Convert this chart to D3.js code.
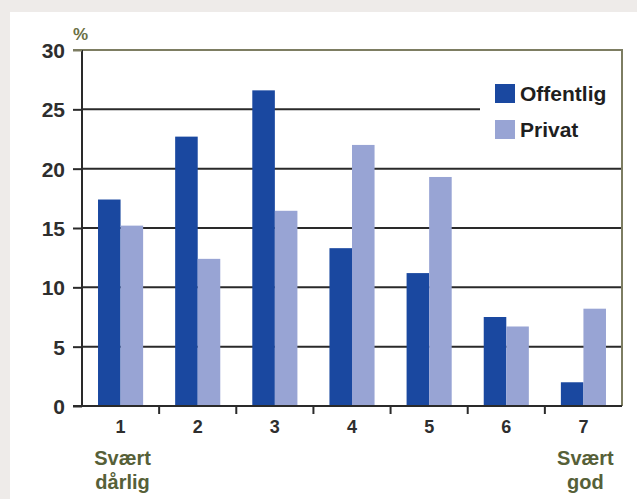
<!DOCTYPE html>
<html><head><meta charset="utf-8">
<script src="https://cdn.jsdelivr.net/npm/d3@7"></script>
<style>
html,body{margin:0;padding:0;background:#eeebe9;}
svg{display:block;}
text{font-family:"Liberation Sans",Arial,sans-serif;}
</style></head>
<body>
<script>
const categories = ["1","2","3","4","5","6","7"];
const offentlig = [17.4, 22.7, 26.6, 13.3, 11.2, 7.5, 2.0];
const privat    = [15.2, 12.4, 16.45, 22.0, 19.3, 6.7, 8.2];
const seriesNames = ["Offentlig","Privat"];
const seriesColors = ["#1a48a0","#98a4d4"];
const yTicks = [0,5,10,15,20,25,30];
const extraLabels = {"1":["Svært","dårlig"],"7":["Svært","god"]};

(function(){
const W = 637, H = 499;
const svg = d3.select("body").append("svg").attr("width", W).attr("height", H);
svg.append("rect").attr("x",10).attr("y",12).attr("width",W-10).attr("height",H-12).attr("fill","#ffffff");

const pL = 82, pR = 622, pT = 50, pB = 406;
const x0 = d3.scaleBand().domain(categories).range([pL, pR]).padding(0);
const x1 = d3.scaleBand().domain(seriesNames).range([0, x0.bandwidth()]).paddingInner(0).paddingOuter(0.71);
const y = d3.scaleLinear().domain([0,30]).range([pB, pT]);

// gridlines
const gridStop = {25: 480};
svg.append("g").selectAll("line").data(yTicks.filter(t => t > 0 && t < 30)).join("line")
  .attr("x1", pL).attr("x2", d => gridStop[d] || pR)
  .attr("y1", d => y(d)).attr("y2", d => y(d))
  .attr("stroke", "#2a2a2a").attr("stroke-width", 2);

// bars
const data = categories.map((c,i) => ({c, vals:[offentlig[i], privat[i]]}));
const groups = svg.append("g").selectAll("g").data(data).join("g")
  .attr("transform", d => `translate(${x0(d.c)},0)`);
groups.selectAll("rect").data(d => d.vals.map((v,j) => ({v, s:seriesNames[j], col:seriesColors[j]}))).join("rect")
  .attr("x", d => x1(d.s)).attr("width", x1.bandwidth())
  .attr("y", d => y(d.v)).attr("height", d => y(0) - y(d.v))
  .attr("fill", d => d.col);

// top and right border
svg.append("path").attr("d", `M${pL-9},${y(30)}H${pR}V${pB}`)
  .attr("fill","none").attr("stroke","#7d7d62").attr("stroke-width",2);

// y axis
const yAxis = d3.axisLeft(y).tickValues(yTicks).tickSize(9).tickPadding(8).tickFormat(d3.format("d"));
const gy = svg.append("g").attr("transform", `translate(${pL},0)`).call(yAxis);
gy.select(".domain").attr("stroke","#2a2a2a").attr("stroke-width",2).attr("d", `M0,${y(30)}V${pB}`);
gy.selectAll(".tick line").attr("stroke", d => d === 30 ? "#7d7d62" : "#2a2a2a").attr("stroke-width",2);
gy.selectAll(".tick text").attr("font-size",21).attr("font-weight","bold").attr("fill","#2e2e2e").attr("font-family","Liberation Sans, Arial, sans-serif").attr("dy","0.36em");

// x axis
const xAxis = d3.axisBottom(x0).tickSize(0).tickPadding(14);
const gx = svg.append("g").attr("transform", `translate(0,${pB})`).call(xAxis);
gx.select(".domain").attr("stroke","#2a2a2a").attr("stroke-width",2).attr("d", `M${pL-9},0H${pR}`);
gx.selectAll(".tick text").attr("font-size",18).attr("font-weight","bold").attr("fill","#2e2e2e").attr("font-family","Liberation Sans, Arial, sans-serif");
// between-category tick marks
svg.append("g").selectAll("line").data(categories.slice(1)).join("line")
  .attr("x1", d => x0(d)).attr("x2", d => x0(d))
  .attr("y1", pB).attr("y2", pB + 8)
  .attr("stroke","#2a2a2a").attr("stroke-width",2);

// extra labels
categories.forEach(c => {
  if (!extraLabels[c]) return;
  extraLabels[c].forEach((t,k) => {
    svg.append("text").attr("x", x0(c) + x0.bandwidth()/2 + 2).attr("y", 465 + k*24)
      .attr("text-anchor","middle").attr("font-size",20).attr("font-weight","bold").attr("fill","#566038").text(t);
  });
});

// % label
svg.append("text").attr("x",73).attr("y",40).attr("font-size",17).attr("font-weight","bold").attr("fill","#6b7045").text("%");

// legend
const leg = svg.append("g").selectAll("g").data(seriesNames).join("g")
  .attr("transform", (d,i) => `translate(495,${84 + i*36})`);
leg.append("rect").attr("width",20).attr("height",19).attr("fill",(d,i)=>seriesColors[i]);
leg.append("text").attr("x",25).attr("y",17).attr("font-size",21).attr("fill","#1e1e1e").attr("font-weight","bold").text(d=>d);
})();
</script>
</body></html>
